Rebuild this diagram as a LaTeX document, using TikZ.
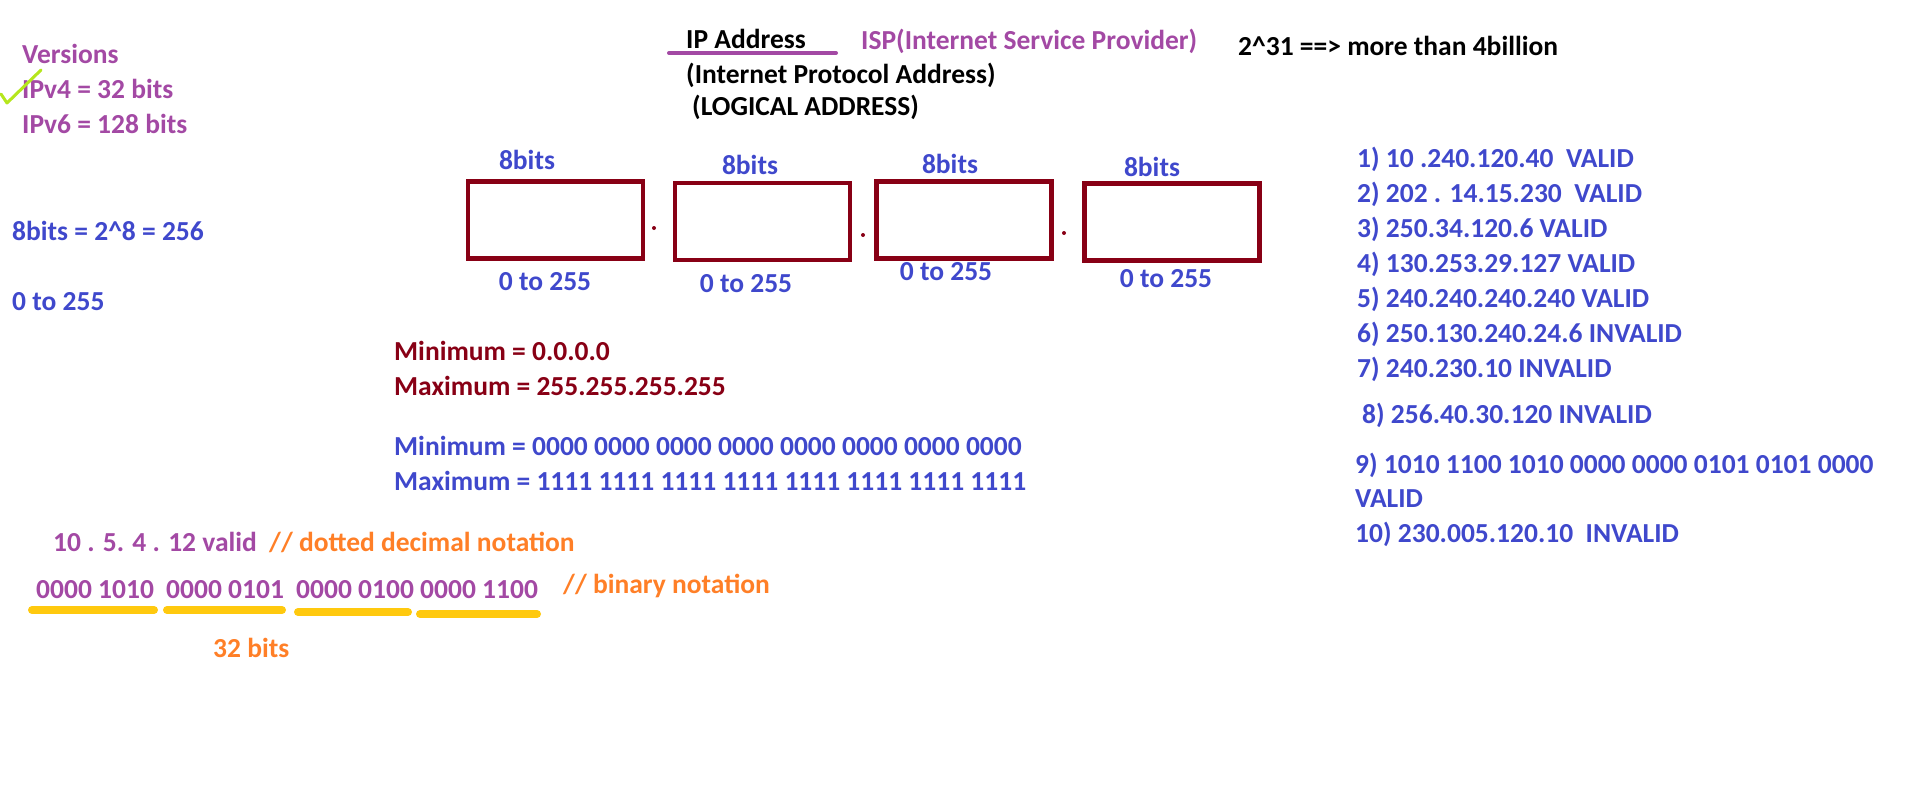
\documentclass[tikz,border=0pt]{standalone}
\usepackage{fontspec}
\setmainfont{Carlito}
\definecolor{paintred}{HTML}{880015}
\definecolor{paintpurple}{HTML}{A349A4}
\definecolor{paintorange}{HTML}{FF7F27}
\definecolor{paintgold}{HTML}{FFC90E}
\definecolor{paintlime}{HTML}{B5E61D}
\definecolor{paintblue}{HTML}{3F48CC}

\begin{document}
\begin{tikzpicture}[x=1pt, y=-1pt,
  every node/.style={inner sep=0pt, anchor=base west, font=\fontsize{27.5}{33}\selectfont\bfseries},
  bluetxt/.style={text=paintblue},
  redtxt/.style={text=paintred},
  purpletxt/.style={text=paintpurple},
  orangetxt/.style={text=paintorange},
  octbox/.style={draw=paintred, line width=4.5pt, anchor=center, minimum width=175pt, minimum height=77pt},
  octlabel/.style={bluetxt, anchor=base},
  goldline/.style={draw=paintgold, line width=8pt, line cap=round}]
			%%%%% START %%%%%
			\useasboundingbox (0, 0) rectangle (1914, 806);

			\node[purpletxt] (versions) at (22, 63) {Versions};
			\node[purpletxt] (ipv4) at (22, 98) {IPv4 = 32 bits};
			\node[purpletxt] (ipv6) at (22, 133) {IPv6 = 128 bits};
			\draw[paintlime, line width=3pt, line cap=round, line join=round] (1, 94) -- (7, 103) -- (41, 70);

			\node[bluetxt] (pow) at (12, 240) {8bits = 2\textasciicircum 8 = 256};
			\node[bluetxt] (range) at (12, 310) {0 to 255};

			\node (ipaddr) at (686, 48) {IP Address};
			\draw[paintpurple, line width=4pt, line cap=round] (669, 53) -- (836, 53);
			\node[purpletxt] (isp) at (861, 49) {ISP(Internet Service Provider)};
			\node (billion) at (1238, 55) {2\textasciicircum 31 ==> more than 4billion};
			\node (fullname) at (686, 83) {(Internet Protocol Address)};
			\node (logical) at (692, 115) {(LOGICAL ADDRESS)};

			\node[octbox] (oct1) at (555.5, 220) {};
			\node[octbox] (oct2) at (762.5, 221.5) {};
			\node[octbox] (oct3) at (964, 220) {};
			\node[octbox] (oct4) at (1172, 222) {};

			\fill[paintred] (654, 228) circle (2);
			\fill[paintred] (863, 235) circle (2);
			\fill[paintred] (1064, 233) circle (2);

			\node[octlabel] (bits1) at (527, 169) {8bits};
			\node[octlabel] (bits2) at (750, 174) {8bits};
			\node[octlabel] (bits3) at (950, 173) {8bits};
			\node[octlabel] (bits4) at (1152, 176) {8bits};

			\node[octlabel] (span1) at (545, 290) {0 to 255};
			\node[octlabel] (span2) at (746, 292) {0 to 255};
			\node[octlabel] (span3) at (946, 280) {0 to 255};
			\node[octlabel] (span4) at (1166, 287) {0 to 255};

			\node[redtxt] (decmin) at (394, 360) {Minimum = 0.0.0.0};
			\node[redtxt] (decmax) at (394, 395) {Maximum = 255.255.255.255};
			\node[bluetxt] (binmin) at (394, 455) {Minimum = 0000 0000 0000 0000 0000 0000 0000 0000};
			\node[bluetxt] (binmax) at (394, 490) {Maximum = 1111 1111 1111 1111 1111 1111 1111 1111};

			\node[purpletxt] (dotted) at (53, 551) {10 . 5. 4 . 12 valid};
			\node[orangetxt] (dottednote) at (269, 551) {// dotted decimal notation};
			\node[purpletxt] (grp1) at (36, 598) {0000 1010};
			\node[purpletxt] (grp2) at (166, 598) {0000 0101};
			\node[purpletxt] (grp3) at (296, 598) {0000 0100};
			\node[purpletxt] (grp4) at (420, 598) {0000 1100};
			\node[orangetxt] (binnote) at (563, 593) {// binary notation};

			\draw[goldline] (32, 610) -- (154, 610);
			\draw[goldline] (167, 610) -- (282, 610);
			\draw[goldline] (298, 612) -- (408, 612);
			\draw[goldline] (420, 614) -- (537, 614);
			\node[orangetxt] (total) at (213, 657) {32 bits};

			\node[bluetxt] (ex1) at (1357, 167) {1) 10 .240.120.40\ \ VALID};
			\node[bluetxt] (ex2) at (1357, 202) {2) 202 . 14.15.230\ \ VALID};
			\node[bluetxt] (ex3) at (1357, 237) {3) 250.34.120.6 VALID};
			\node[bluetxt] (ex4) at (1357, 272) {4) 130.253.29.127 VALID};
			\node[bluetxt] (ex5) at (1357, 307) {5) 240.240.240.240 VALID};
			\node[bluetxt] (ex6) at (1357, 342) {6) 250.130.240.24.6 INVALID};
			\node[bluetxt] (ex7) at (1357, 377) {7) 240.230.10 INVALID};
			\node[bluetxt] (ex8) at (1362, 423) {8) 256.40.30.120 INVALID};
			\node[bluetxt] (ex9) at (1355, 473) {9) 1010 1100 1010 0000 0000 0101 0101 0000};
			\node[bluetxt] (ex9b) at (1355, 507) {VALID};
			\node[bluetxt] (ex10) at (1355, 542) {10) 230.005.120.10\ \ INVALID};

			%%%%% END %%%%%
		\end{tikzpicture}
\end{document}
